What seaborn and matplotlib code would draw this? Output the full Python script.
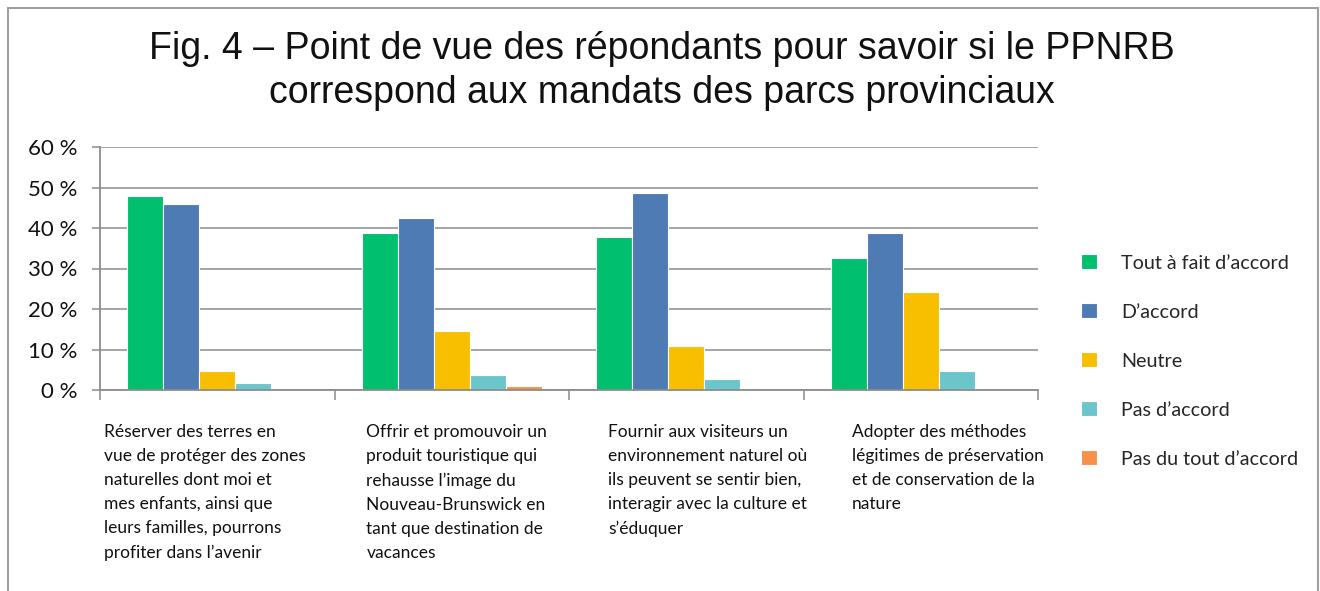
import numpy as np
import pandas as pd
import seaborn as sns
import matplotlib.pyplot as plt
from matplotlib.patches import Rectangle

# data
categories = [
    "Réserver des terres en\nvue de protéger des zones\nnaturelles dont moi et\nmes enfants, ainsi que\nleurs familles, pourrons\nprofiter dans l’avenir",
    "Offrir et promouvoir un\nproduit touristique qui\nrehausse l’image du\nNouveau-Brunswick en\ntant que destination de\nvacances",
    "Fournir aux visiteurs un\nenvironnement naturel où\nils peuvent se sentir bien,\ninteragir avec la culture et\ns’éduquer",
    "Adopter des méthodes\nlégitimes de préservation\net de conservation de la\nnature",
]
responses = ["Tout à fait d’accord", "D’accord", "Neutre", "Pas d’accord", "Pas du tout d’accord"]
tout_a_fait = [47.8, 38.8, 37.9, 32.5]
d_accord = [46.0, 42.5, 48.7, 38.8]
neutre = [4.7, 14.5, 10.8, 24.3]
pas_d_accord = [1.8, 3.6, 2.8, 4.7]
pas_du_tout = [0.0, 1.0, 0.0, 0.0]
colors = ["#00BF6F", "#4F7BB5", "#F8BE00", "#6BC6CC", "#F79149"]

series = [tout_a_fait, d_accord, neutre, pas_d_accord, pas_du_tout]
rows = []
for resp, vals in zip(responses, series):
    for cat, v in zip(categories, vals):
        rows.append({"Mandat": cat, "Réponse": resp, "Pourcentage": v})
df = pd.DataFrame(rows)

sns.set_style("white")
plt.rcParams['font.family'] = ['Lato', 'DejaVu Sans']

fig = plt.figure(figsize=(13.2, 5.91), dpi=100)
ax = fig.add_axes([100 / 1320, 1 - 390 / 591, 938 / 1320, 243 / 591])

sns.barplot(data=df, x="Mandat", y="Pourcentage", hue="Réponse",
            hue_order=responses, palette=colors, width=0.768, saturation=1,
            edgecolor="white", linewidth=0.8, ax=ax)

ax.set_xlim(-0.5, 3.5)
ax.set_ylim(0, 60)
ax.set_yticks(range(0, 61, 10))
ax.set_yticklabels([f"{v} %" for v in range(0, 61, 10)], fontsize=16, color="#111111")
ax.yaxis.grid(True, color="#8C8C8C", linewidth=1.1)
ax.set_axisbelow(True)
ax.tick_params(axis="y", length=6, width=1.1, color="#8C8C8C", pad=10, left=True)

# category labels: left-aligned blocks under each group, as in the original
ax.set_xticks(range(4))
ax.set_xticklabels([])
ax.tick_params(axis="x", which="major", length=0)
ax.set_xticks(np.arange(-0.5, 4, 1), minor=True)
ax.tick_params(axis="x", which="minor", length=7, width=1.1, color="#8C8C8C", bottom=True)
label_shift = [-0.483, -0.364, -0.334, -0.295]
trans = ax.get_xaxis_transform()
for i, cat in enumerate(categories):
    ax.text(i + label_shift[i], -(424 - 390) / 243, cat, transform=trans,
            ha="left", va="top", fontsize=12.5, linespacing=1.62, color="#111111")

for s in ["top", "right"]:
    ax.spines[s].set_visible(False)
for s in ["left", "bottom"]:
    ax.spines[s].set_color("#8C8C8C")
    ax.spines[s].set_linewidth(1.3)
ax.set_xlabel("")
ax.set_ylabel("")

handles, labels = ax.get_legend_handles_labels()
ax.legend(handles, labels, loc="center left", bbox_to_anchor=(1063 / 1320, 1 - 361 / 591),
          bbox_transform=fig.transFigure, frameon=False, fontsize=14.2,
          handlelength=0.8, handleheight=0.8, handletextpad=1.25, labelspacing=1.6)

fig.text(662 / 1320, 1 - 71 / 591,
         "Fig. 4 – Point de vue des répondants pour savoir si le PPNRB\ncorrespond aux mandats des parcs provinciaux",
         ha="center", va="center", fontsize=27, family="Liberation Sans",
         linespacing=1.32, color="#111111")

fig.patches.append(Rectangle((8 / 1320, -0.1), 1310 / 1320, 1.1 - 8 / 591,
                             transform=fig.transFigure, fill=False,
                             edgecolor="#A0A0A0", linewidth=1.5))

plt.savefig("out.png", dpi=100)
